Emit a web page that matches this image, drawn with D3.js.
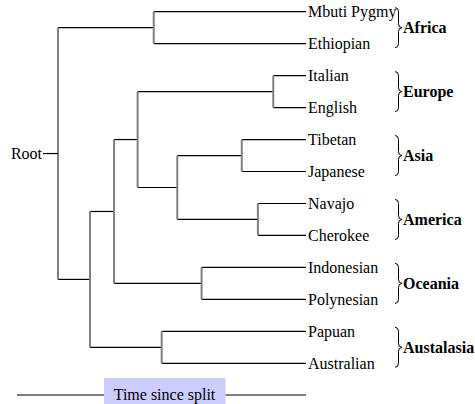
<!DOCTYPE html>
<html>
<head>
<meta charset="utf-8">
<script src="https://cdn.jsdelivr.net/npm/d3@7"></script>
<style>
  html, body { margin: 0; padding: 0; background: #fff; }
  svg { display: block; }
</style>
</head>
<body>
<svg id="chart" width="475" height="404" font-family="'Liberation Serif', 'Times New Roman', Times, 'DejaVu Serif', serif"></svg>
<script>
// ---- data ----
const internalNodes   = ["Root", "Africa", "n1", "n2", "Australasia", "n3", "Oceania", "Europe", "n4", "Asia", "America"];
const internalParents = ["",     "Root",   "Root", "n1", "n1",        "n2", "n2",      "n3",     "n3", "n4",   "n4"];
const splitTimes      = [100,    61.4,     87.1,  77.4,  58.2,        67.9, 42.1,      13.2,     51.9, 25.9,   19.4];

const leaves      = ["Mbuti Pygmy", "Ethiopian", "Italian", "English", "Tibetan", "Japanese",
                     "Navajo", "Cherokee", "Indonesian", "Polynesian", "Papuan", "Australian"];
const leafParents = ["Africa", "Africa", "Europe", "Europe", "Asia", "Asia",
                     "America", "America", "Oceania", "Oceania", "Australasia", "Australasia"];

const regions      = ["Africa", "Europe", "Asia", "America", "Oceania", "Austalasia"];
const regionLeaves = [["Mbuti Pygmy", "Ethiopian"], ["Italian", "English"], ["Tibetan", "Japanese"],
                      ["Navajo", "Cherokee"], ["Indonesian", "Polynesian"], ["Papuan", "Australian"]];

const rootLabel   = "Root";
const legendLabel = "Time since split";

// ---- build hierarchy ----
const rows = internalNodes.map((id, i) => ({ id, parent: internalParents[i] || null, time: splitTimes[i] }))
  .concat(leaves.map((id, i) => ({ id, parent: leafParents[i], time: 0 })));
const root = d3.stratify().id(d => d.id).parentId(d => d.parent)(rows);

// ---- scales ----
const x = d3.scaleLinear().domain([100, 0]).range([58, 306]);
const y = d3.scalePoint().domain(leaves).range([11.7, 363.3]);

root.eachAfter(n => {
  n.px = x(n.data.time);
  n.py = n.children ? d3.mean(n.children, c => c.py) : y(n.id);
});

const svg = d3.select("#chart");
const g = svg.append("g");

// horizontal links (black)
g.selectAll("line.h")
  .data(root.descendants().filter(n => n.parent))
  .join("line")
  .attr("x1", n => n.parent.px).attr("x2", n => n.px)
  .attr("y1", n => n.py).attr("y2", n => n.py)
  .attr("stroke", "#000").attr("stroke-width", 1.2);

// vertical links (grey)
g.selectAll("line.v")
  .data(root.descendants().filter(n => n.children))
  .join("line")
  .attr("x1", n => n.px).attr("x2", n => n.px)
  .attr("y1", n => d3.min(n.children, c => c.py))
  .attr("y2", n => d3.max(n.children, c => c.py))
  .attr("stroke", "#808080").attr("stroke-width", 2);

// root stub + label
g.append("line")
  .attr("x1", root.px - 15).attr("x2", root.px)
  .attr("y1", root.py).attr("y2", root.py)
  .attr("stroke", "#000").attr("stroke-width", 1.2);
g.append("text")
  .attr("x", root.px - 16).attr("y", root.py).attr("dy", "0.35em")
  .attr("text-anchor", "end").attr("font-size", 16)
  .text(rootLabel);

// leaf labels
g.selectAll("text.leaf")
  .data(root.leaves())
  .join("text")
  .attr("class", "leaf")
  .attr("x", n => n.px + 2).attr("y", n => n.py).attr("dy", "0.35em")
  .attr("font-size", 16)
  .text(n => n.id);

// braces + region labels
const braceX = 395, half = 20, w = 3.5;
regions.forEach((r, i) => {
  const cy = d3.mean(regionLeaves[i], l => y(l));
  const t = cy - half, b = cy + half;
  const p = d3.path();
  p.moveTo(braceX, t);
  p.quadraticCurveTo(braceX + w, t, braceX + w, t + 4);
  p.lineTo(braceX + w, cy - 4);
  p.quadraticCurveTo(braceX + w, cy, braceX + 2 * w, cy);
  p.quadraticCurveTo(braceX + w, cy, braceX + w, cy + 4);
  p.lineTo(braceX + w, b - 4);
  p.quadraticCurveTo(braceX + w, b, braceX, b);
  g.append("path").attr("d", p.toString())
    .attr("fill", "none").attr("stroke", "#000").attr("stroke-width", 1);
  g.append("text")
    .attr("x", braceX + 2 * w + 1).attr("y", cy).attr("dy", "0.35em")
    .attr("font-size", 16).attr("font-weight", "bold")
    .text(r);
});

// legend: time since split
const legY = 395;
g.append("line")
  .attr("x1", 17).attr("x2", x(0))
  .attr("y1", legY).attr("y2", legY)
  .attr("stroke", "#000").attr("stroke-width", 1.2);
g.append("rect")
  .attr("x", 104).attr("y", 378).attr("width", 121.5).attr("height", 32)
  .attr("fill", "#ccccff");
g.append("text")
  .attr("x", 164.5).attr("y", 400)
  .attr("text-anchor", "middle").attr("font-size", 16)
  .text(legendLabel);
</script>
</body>
</html>
